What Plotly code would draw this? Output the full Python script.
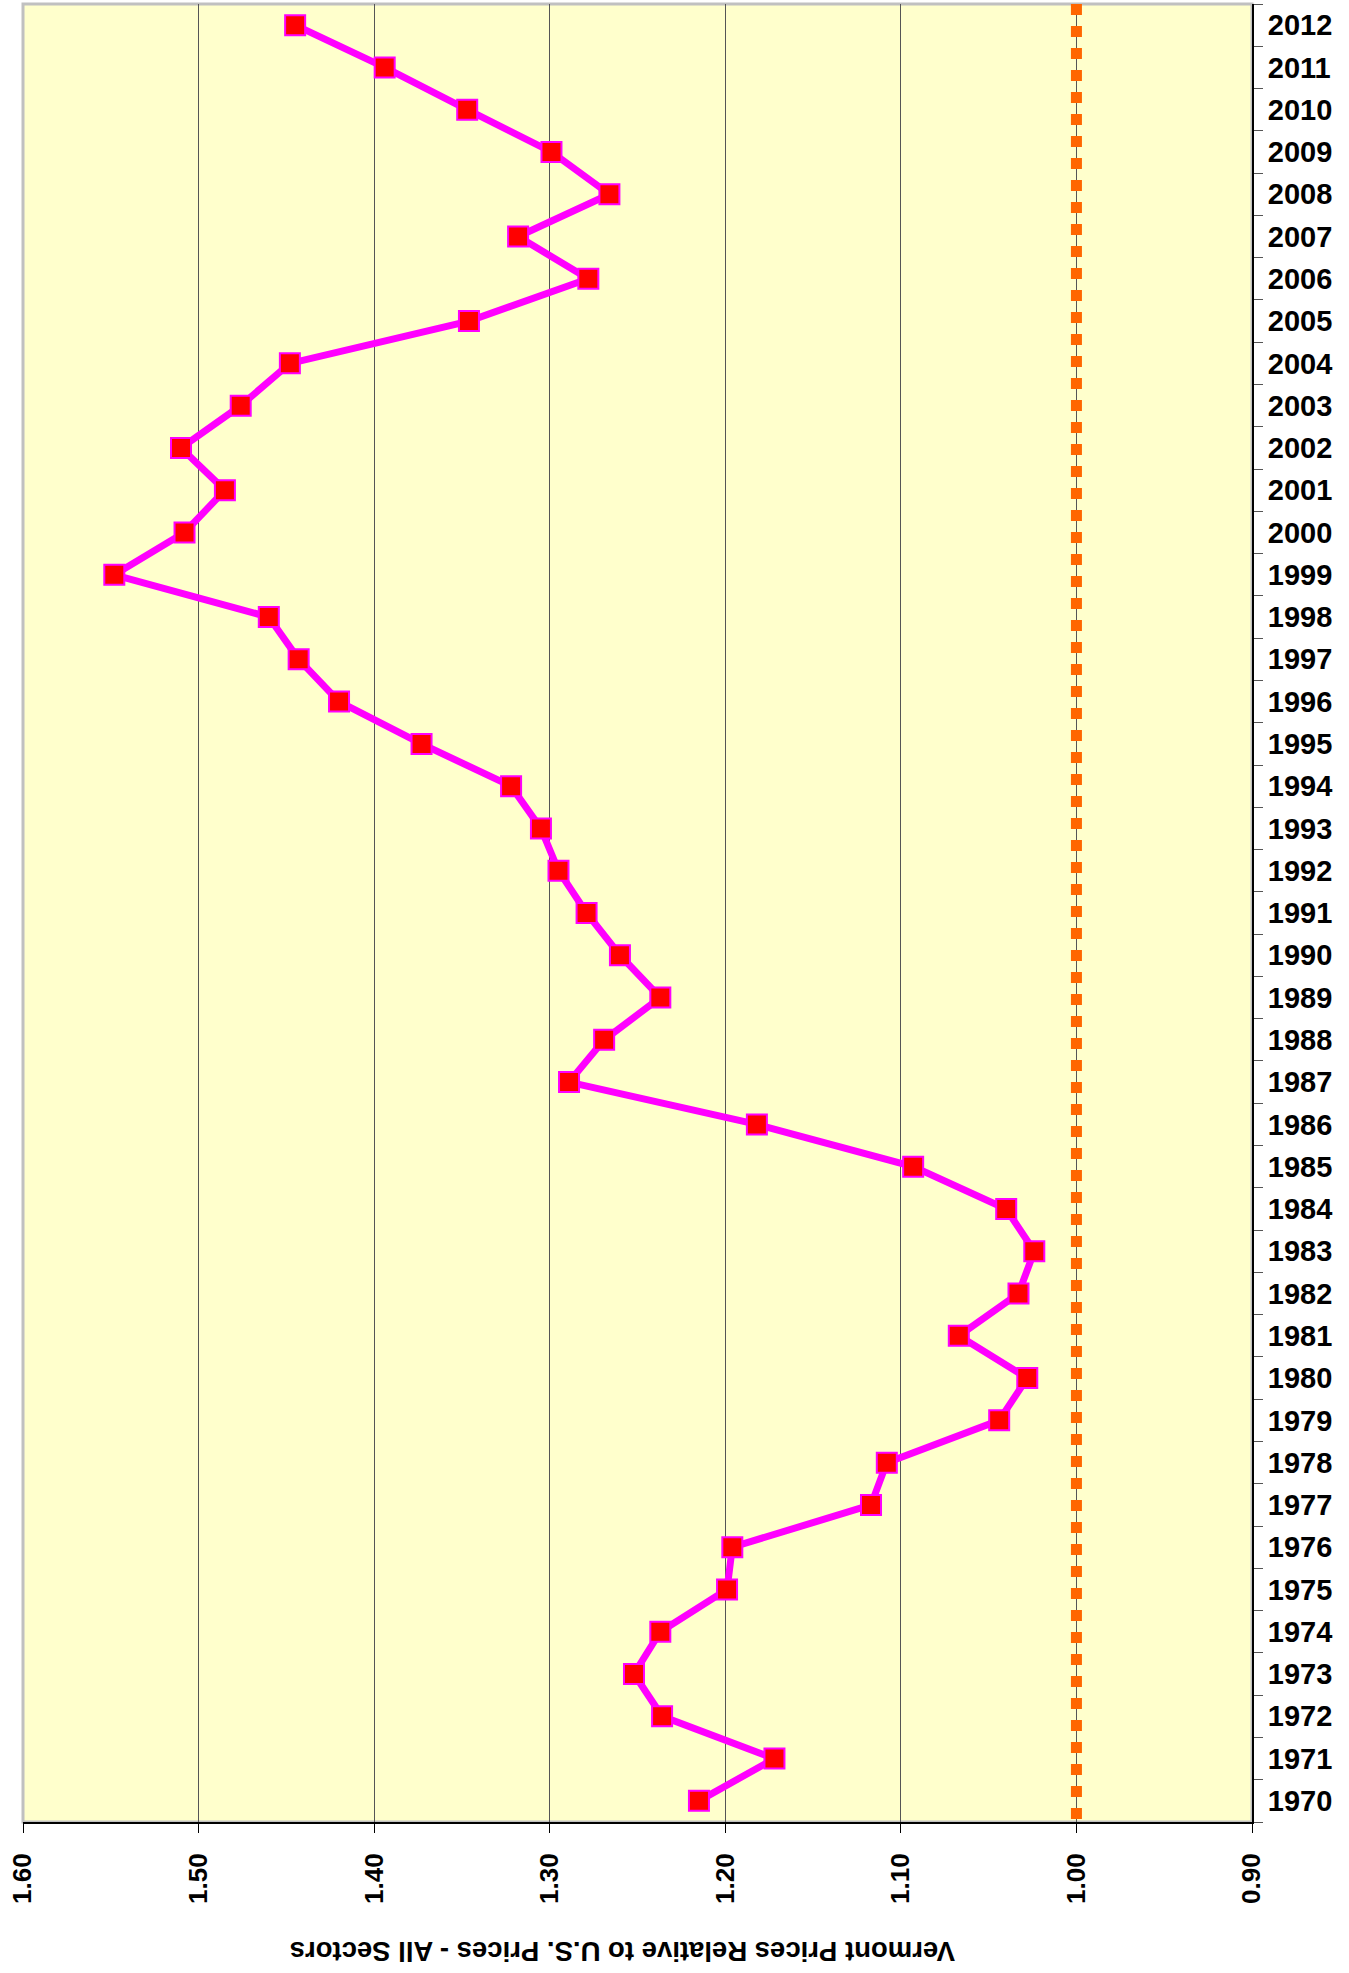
import plotly.graph_objects as go

years = [str(y) for y in range(1970, 2013)]
vt_ratio = [
    1.215, 1.172, 1.236, 1.252, 1.237, 1.199, 1.196, 1.117, 1.108, 1.044,  # 1970-1979
    1.028, 1.067, 1.033, 1.024, 1.040, 1.093, 1.182, 1.289, 1.269, 1.237,  # 1980-1989
    1.260, 1.279, 1.295, 1.305, 1.322, 1.373, 1.420, 1.443, 1.460, 1.548,  # 1990-1999
    1.508, 1.485, 1.510, 1.476, 1.448, 1.346, 1.278, 1.318, 1.266, 1.299,  # 2000-2009
    1.347, 1.394, 1.445,                                                   # 2010-2012
]
us_parity = 1.00
x_ticks = [1.60, 1.50, 1.40, 1.30, 1.20, 1.10, 1.00, 0.90]
x_title = "Vermont Prices Relative to U.S. Prices - All Sectors"

FONT = "Liberation Sans, Arial, sans-serif"

fig = go.Figure()
fig.add_trace(go.Scatter(
    x=vt_ratio, y=years, mode="lines+markers",
    line=dict(color="#FF00FF", width=7),
    marker=dict(symbol="square", size=20, color="#FF0000",
                line=dict(color="#FF00FF", width=2)),
    showlegend=False,
))

fig.update_layout(
    width=1349, height=1973,
    margin=dict(l=23, r=97, t=4, b=151),
    paper_bgcolor="white",
    plot_bgcolor="#FFFFCC",
    font=dict(family=FONT, color="black"),
    xaxis=dict(
        range=[1.60, 0.90],
        tickvals=x_ticks,
        ticktext=[f"{v:.2f}" for v in x_ticks],
        tickangle=-90,
        tickfont=dict(size=26, family=FONT, weight="bold"),
        ticks="outside", ticklen=9, tickcolor="black",
        showgrid=True, gridcolor="#555555", gridwidth=1,
        showline=True, linecolor="black", linewidth=2,
        zeroline=False,
        ticklabelstandoff=10,
        automargin=False,
    ),
    yaxis=dict(
        type="category",
        categoryorder="array", categoryarray=years,
        range=[-0.5, len(years) - 0.5],
        side="right",
        tickson="boundaries",
        ticks="outside", ticklen=9, tickcolor="#555555",
        tickfont=dict(size=29, family=FONT, weight="bold"),
        ticklabelstandoff=8,
        showgrid=False,
        showline=True, linecolor="black", linewidth=2,
        zeroline=False,
        automargin=False,
    ),
    shapes=[
        dict(type="rect", xref="paper", yref="paper", x0=0, x1=1, y0=0, y1=1,
             line=dict(color="#C0C0C0", width=3), layer="below"),
        dict(type="line", xref="x", yref="paper", x0=us_parity, x1=us_parity,
             y0=1, y1=0, line=dict(color="#FF6600", width=11, dash="11px,11px"),
             layer="above"),
    ],
    annotations=[dict(
        text=f"<b>{x_title}</b>",
        xref="paper", yref="paper",
        x=(623 - 23) / (1252 - 23), y=-(1951 - 1822) / (1822 - 4),
        xanchor="center", yanchor="middle",
        textangle=180, showarrow=False,
        font=dict(size=27.5, family=FONT, color="black"),
    )],
)

fig.write_html(
    "out.html",
    config={"displayModeBar": False},
    post_script="document.body.style.margin='0px';document.body.style.overflow='hidden';",
)
